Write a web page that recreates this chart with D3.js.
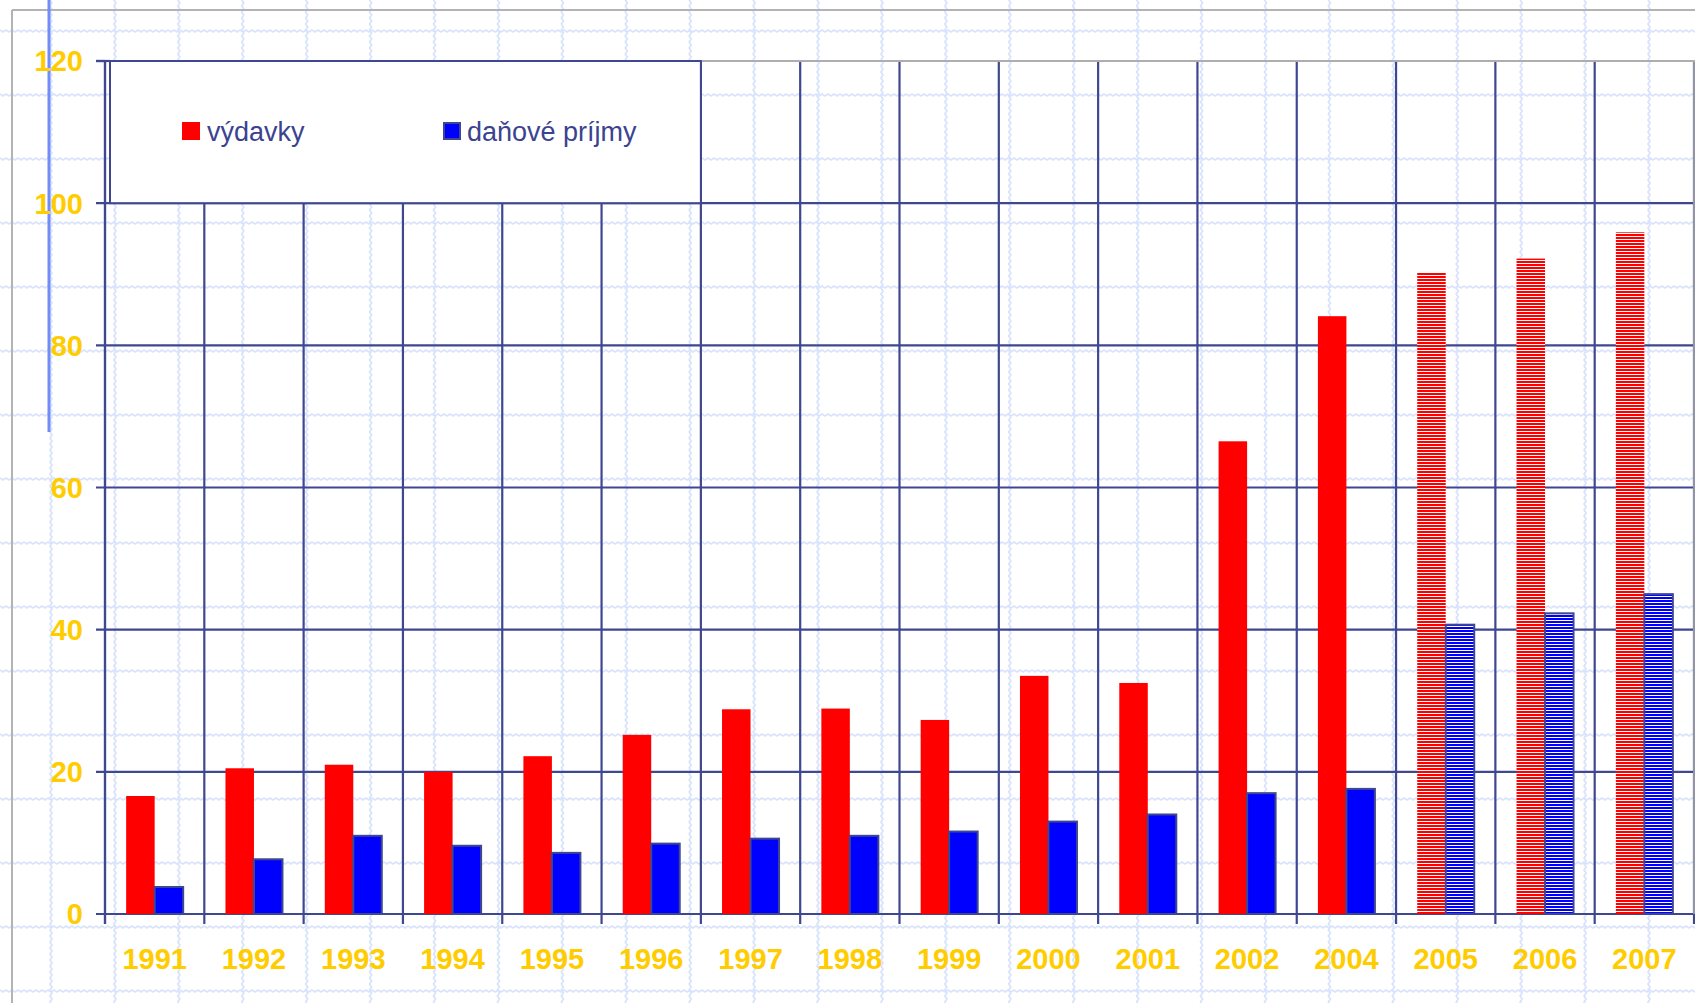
<!DOCTYPE html>
<html>
<head>
<meta charset="utf-8">
<script src="https://cdn.jsdelivr.net/npm/d3@7"></script>
<style>
  html, body { margin: 0; padding: 0; background: #ffffff; }
  svg { display: block; }
</style>
</head>
<body>
<svg id="chart" width="1695" height="1003"></svg>
<script>
// ---- data ----
const categories = ["1991","1992","1993","1994","1995","1996","1997","1998","1999","2000","2001","2002","2004","2005","2006","2007"];
const vydavky = [16.6, 20.5, 21.0, 20.0, 22.2, 25.2, 28.8, 28.9, 27.3, 33.5, 32.5, 66.5, 84.1, 90.2, 92.2, 95.9];
const danovePrijmy = [3.8, 7.7, 11.0, 9.6, 8.6, 9.9, 10.6, 11.0, 11.6, 13.0, 14.0, 17.0, 17.6, 40.7, 42.3, 45.0];
const projectedYears = ["2005","2006","2007"];
const seriesNames = ["výdavky", "daňové príjmy"];
const yTicks = [0, 20, 40, 60, 80, 100, 120];

// ---- setup ----
const W = 1695, H = 1003;
const svg = d3.select("#chart");
const NAVY = "#3f4791";
const YELLOW = "#ffcc00";
const FONT = "'Liberation Sans', Arial, sans-serif";

const defs = svg.append("defs");
function stripe(id, color, h) {
  const p = defs.append("pattern").attr("id", id)
    .attr("patternUnits", "userSpaceOnUse").attr("width", 4).attr("height", 3);
  p.append("rect").attr("width", 4).attr("height", 3).attr("fill", "#ffffff");
  p.append("rect").attr("width", 4).attr("height", h).attr("fill", color);
}
stripe("hatchRed", "#ff0000", 2);
stripe("hatchBlue", "#0000ff", 2);

// background graph paper (wavy light-blue lines)
const bg = svg.append("g").attr("fill", "none").attr("stroke", "#d9e3fb").attr("stroke-width", 1.8);
d3.range(0, 16).forEach(k => {
  const yy = 31 + 64 * k;
  const pts = d3.range(0, W + 4, 3).map((xx, i) => [xx, yy + (i % 2 ? 1 : -1)]);
  bg.append("path").attr("d", d3.line()(pts));
});
d3.range(0, 27).forEach(k => {
  const xx = 51 + 63.92 * k;
  const pts = d3.range(0, H + 4, 3).map((yy, i) => [xx + (i % 2 ? 1 : -1), yy]);
  bg.append("path").attr("d", d3.line()(pts));
});

// outer gray frame
svg.append("line").attr("x1", 12).attr("x2", W).attr("y1", 10).attr("y2", 10)
  .attr("stroke", "#b3b3b3").attr("stroke-width", 2);
svg.append("line").attr("x1", 12).attr("x2", 12).attr("y1", 10).attr("y2", H)
  .attr("stroke", "#b3b3b3").attr("stroke-width", 2);
// blue accent line
svg.append("line").attr("x1", 49).attr("x2", 49).attr("y1", 0).attr("y2", 432)
  .attr("stroke", "#6f8cf8").attr("stroke-width", 3);

// ---- scales ----
const plotL = 105, plotR = 1694;
const x0 = d3.scaleBand().domain(categories).range([plotL, plotR]).padding(0);
const x1 = d3.scaleBand().domain(seriesNames).range([0, x0.bandwidth()]).paddingInner(0).paddingOuter(0.742);
const y = d3.scaleLinear().domain([0, 120]).range([914, 61]);

// ---- grid ----
const grid = svg.append("g");
yTicks.forEach(t => {
  grid.append("line").attr("x1", 96).attr("x2", t === 120 ? plotL : W)
    .attr("y1", y(t)).attr("y2", y(t))
    .attr("stroke", NAVY).attr("stroke-width", 2.2);
});
categories.forEach((c) => {
  const xx = x0(c);
  grid.append("line").attr("x1", xx).attr("x2", xx)
    .attr("y1", y(120)).attr("y2", y(0) + 10)
    .attr("stroke", NAVY).attr("stroke-width", 2.2);
});
grid.append("line").attr("x1", plotR).attr("x2", plotR)
  .attr("y1", y(120)).attr("y2", y(0) + 10)
  .attr("stroke", NAVY).attr("stroke-width", 2.2);
// gray plot border top & right
grid.append("line").attr("x1", plotL).attr("x2", W).attr("y1", y(120)).attr("y2", y(120))
  .attr("stroke", "#aeaeae").attr("stroke-width", 2.2);
grid.append("line").attr("x1", plotR).attr("x2", plotR).attr("y1", y(120)).attr("y2", y(0))
  .attr("stroke", "#aeaeae").attr("stroke-width", 1.5);
grid.append("line").attr("x1", plotL).attr("x2", plotL).attr("y1", y(120)).attr("y2", y(0) + 10)
  .attr("stroke", NAVY).attr("stroke-width", 2.2);

// ---- legend box ----
const legX = 110, legR = x0("1997");
svg.append("rect").attr("x", legX).attr("y", y(120))
  .attr("width", legR - legX).attr("height", y(100) - y(120))
  .attr("fill", "#ffffff").attr("stroke", NAVY).attr("stroke-width", 2);
svg.append("line").attr("x1", 96).attr("x2", legX).attr("y1", y(120)).attr("y2", y(120))
  .attr("stroke", NAVY).attr("stroke-width", 2.2);

const leg = svg.append("g");
leg.append("rect").attr("x", 182).attr("y", 122).attr("width", 18).attr("height", 18).attr("fill", "#ff0000");
leg.append("text").attr("x", 207).attr("y", 141).text(seriesNames[0])
  .attr("font-family", FONT).attr("font-size", 27).attr("fill", "#3b4390");
leg.append("rect").attr("x", 444).attr("y", 123).attr("width", 16).attr("height", 16)
  .attr("fill", "#0000ff").attr("stroke", NAVY).attr("stroke-width", 2);
leg.append("text").attr("x", 467).attr("y", 141).text(seriesNames[1])
  .attr("font-family", FONT).attr("font-size", 27).attr("fill", "#3b4390");

// ---- bars ----
const rows = categories.map((c, i) => ({ cat: c, v: vydavky[i], p: danovePrijmy[i], proj: projectedYears.includes(c) }));
const bars = svg.append("g");
bars.selectAll("rect.red").data(rows).join("rect").attr("class", "red")
  .attr("x", d => x0(d.cat) + x1(seriesNames[0]))
  .attr("width", x1.bandwidth())
  .attr("y", d => y(d.v))
  .attr("height", d => y(0) - y(d.v))
  .attr("fill", d => d.proj ? "url(#hatchRed)" : "#ff0000");
bars.selectAll("rect.blue").data(rows).join("rect").attr("class", "blue")
  .attr("x", d => x0(d.cat) + x1(seriesNames[1]))
  .attr("width", x1.bandwidth())
  .attr("y", d => y(d.p))
  .attr("height", d => y(0) - y(d.p))
  .attr("fill", d => d.proj ? "url(#hatchBlue)" : "#0000ff")
  .attr("stroke", NAVY).attr("stroke-width", 2);

// ---- labels ----
svg.append("g").selectAll("text").data(yTicks).join("text")
  .attr("x", 83).attr("y", d => y(d)).attr("dy", "0.36em")
  .attr("text-anchor", "end")
  .attr("font-family", FONT).attr("font-weight", "bold").attr("font-size", 29)
  .attr("fill", YELLOW).text(d => d);

svg.append("g").selectAll("text").data(categories).join("text")
  .attr("x", d => x0(d) + x0.bandwidth() / 2).attr("y", 969)
  .attr("text-anchor", "middle")
  .attr("font-family", FONT).attr("font-weight", "bold").attr("font-size", 29)
  .attr("fill", YELLOW).text(d => d);
</script>
</body>
</html>
